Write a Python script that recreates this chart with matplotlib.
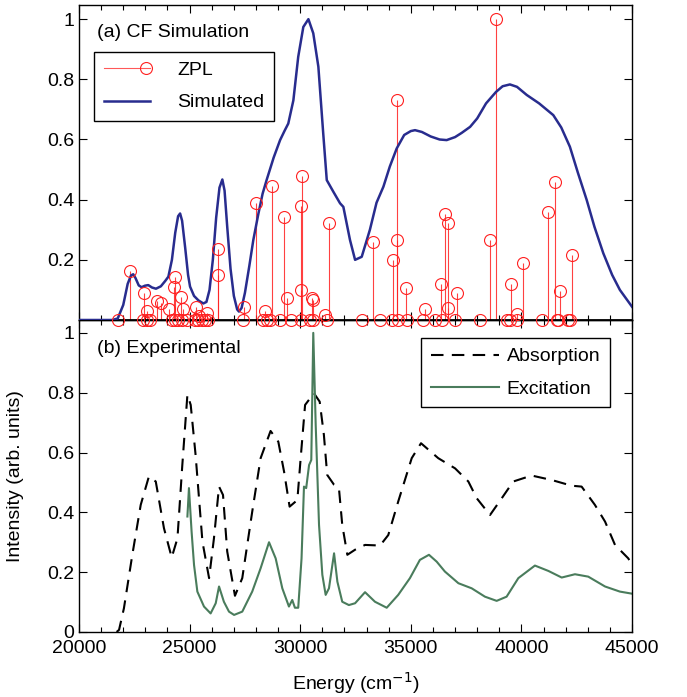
from __future__ import annotations

import matplotlib

matplotlib.use("Agg")
import matplotlib.pyplot as plt
import numpy as np
from matplotlib.legend_handler import HandlerBase
from matplotlib.lines import Line2D


# (a) crystal-field ZPL stems, energy in cm^-1 and relative intensity
ZPL_ENERGY = [
    22290, 22940, 23090, 23540, 23690, 24070, 24300, 24350, 24600, 24700,
    25270, 25420, 25770, 26280, 26290, 27470, 27990, 28410, 28740, 29280,
    29390, 30020, 30040, 30100, 30520, 30560, 31120, 31300, 33300, 34180,
    34360, 34380, 34780, 35640, 36350, 36550, 36670, 36700, 37080, 38580,
    38850, 39520, 39810, 40090, 41220, 41520, 41750, 42270,
]
ZPL_HEIGHT = [
    0.163, 0.089, 0.031, 0.063, 0.055, 0.035, 0.111, 0.143, 0.077, 0.038,
    0.042, 0.014, 0.024, 0.235, 0.150, 0.042, 0.390, 0.031, 0.447, 0.341,
    0.074, 0.379, 0.100, 0.477, 0.072, 0.068, 0.017, 0.321, 0.259, 0.201,
    0.266, 0.731, 0.107, 0.038, 0.118, 0.352, 0.039, 0.324, 0.089, 0.266,
    1.000, 0.118, 0.019, 0.188, 0.360, 0.458, 0.096, 0.216,
]
ZPL_ZERO_ENERGY = [
    21750, 22880, 23060, 23210, 24190, 24340, 24490, 24640, 24870, 25240,
    25390, 25550, 25700, 25850, 27430, 28330, 28480, 28630, 29090, 29570,
    30020, 30440, 30590, 31200, 32780, 33600, 34130, 34430, 34810, 35560,
    36090, 36390, 36990, 38130, 39330, 39480, 39780, 40910, 41590, 41660,
    42120, 42190,
]

# (a) simulated spectrum
SIM_ENERGY = [
    20000, 21500, 21750, 22000, 22200, 22350, 22450, 22550, 22700, 22830,
    22980, 23130, 23300, 23480, 23700, 23900, 24040, 24200, 24350, 24480,
    24570, 24660, 24800, 24930, 25020, 25200, 25400, 25620, 25760, 25900,
    26050, 26200, 26350, 26480, 26580, 26700, 26850, 27000, 27150, 27230,
    27350, 27500, 27700, 27880, 28100, 28300, 28480, 28800, 29090, 29300,
    29460, 29690, 29910, 30140, 30370, 30590, 30820, 31040, 31200, 31500,
    31800, 31950, 32250, 32480, 32780, 33150, 33450, 33760, 34050, 34360,
    34700, 35000, 35190, 35500, 35900, 36300, 36620, 37000, 37300, 37680,
    38000, 38400, 38850, 39150, 39480, 39800, 40240, 40800, 41440, 41800,
    42190, 42550, 42950, 43300, 43700, 44100, 44450, 45000,
]
SIM_VALUE = [
    0.000, 0.000, 0.005, 0.050, 0.120, 0.148, 0.152, 0.140, 0.115, 0.109,
    0.114, 0.116, 0.108, 0.104, 0.112, 0.130, 0.144, 0.200, 0.290, 0.345,
    0.354, 0.330, 0.240, 0.150, 0.111, 0.080, 0.065, 0.055, 0.060, 0.100,
    0.200, 0.340, 0.440, 0.467, 0.430, 0.310, 0.170, 0.080, 0.035, 0.028,
    0.040, 0.090, 0.180, 0.266, 0.350, 0.420, 0.465, 0.540, 0.598, 0.630,
    0.653, 0.730, 0.875, 0.974, 1.000, 0.953, 0.842, 0.620, 0.465, 0.426,
    0.388, 0.376, 0.266, 0.200, 0.210, 0.300, 0.390, 0.443, 0.510, 0.570,
    0.615, 0.628, 0.631, 0.625, 0.610, 0.600, 0.598, 0.608, 0.622, 0.642,
    0.670, 0.720, 0.758, 0.777, 0.783, 0.775, 0.748, 0.720, 0.681, 0.640,
    0.576, 0.490, 0.399, 0.310, 0.222, 0.150, 0.100, 0.044,
]

# (b) absorption
ABS_ENERGY = [
    21700, 21810, 22030, 22410, 22790, 23160, 23470, 23840, 24190, 24450,
    24670, 24900, 25050, 25270, 25580, 25880, 26100, 26330, 26510, 26700,
    27050, 27380, 27830, 28210, 28660, 29010, 29270, 29520, 29870, 30020,
    30220, 30620, 30880, 31070, 31220, 31530, 31750, 31900, 32130, 32480,
    32930, 33610, 33980, 34430, 35040, 35460, 36240, 37000, 37600, 37980,
    38580, 39110, 39630, 40460, 41370, 42270, 42720, 43320, 43780, 44230,
    44830, 45000,
]
ABS_VALUE = [
    0.000, 0.007, 0.079, 0.258, 0.425, 0.520, 0.503, 0.347, 0.249, 0.313,
    0.558, 0.793, 0.759, 0.592, 0.302, 0.180, 0.313, 0.486, 0.458, 0.269,
    0.121, 0.180, 0.402, 0.581, 0.672, 0.636, 0.536, 0.419, 0.441, 0.581,
    0.759, 0.798, 0.770, 0.659, 0.525, 0.492, 0.481, 0.358, 0.258, 0.275,
    0.291, 0.289, 0.324, 0.436, 0.581, 0.631, 0.581, 0.547, 0.503, 0.447,
    0.391, 0.447, 0.503, 0.523, 0.508, 0.489, 0.486, 0.425, 0.369, 0.291,
    0.246, 0.224,
]

# (b) excitation
EXC_ENERGY = [
    24900, 24970, 25090, 25200, 25350, 25650, 25950, 26180, 26330, 26550,
    26780, 27010, 27380, 27830, 28210, 28590, 28890, 29190, 29490, 29640,
    29760, 29910, 30060, 30170, 30270, 30400, 30500, 30590, 30700, 30850,
    31000, 31150, 31300, 31530, 31680, 31900, 32200, 32480, 32930, 33380,
    33910, 34430, 34960, 35410, 35820, 36170, 36540, 37150, 37750, 38350,
    38880, 39330, 39860, 40610, 41220, 41820, 42420, 43020, 43780, 44450,
    45000,
]
EXC_VALUE = [
    0.386, 0.481, 0.335, 0.224, 0.135, 0.085, 0.062, 0.096, 0.152, 0.101,
    0.068, 0.057, 0.068, 0.135, 0.213, 0.300, 0.246, 0.146, 0.085, 0.107,
    0.081, 0.081, 0.246, 0.486, 0.481, 0.558, 0.575, 1.000, 0.692, 0.358,
    0.191, 0.124, 0.146, 0.263, 0.168, 0.101, 0.090, 0.096, 0.133, 0.101,
    0.081, 0.124, 0.180, 0.241, 0.258, 0.235, 0.202, 0.163, 0.146, 0.118,
    0.104, 0.118, 0.180, 0.222, 0.204, 0.182, 0.193, 0.185, 0.152, 0.135,
    0.128,
]

XTICKS = [20000, 25000, 30000, 35000, 40000, 45000]
YTICKS_TOP = [0.2, 0.4, 0.6, 0.8, 1.0]
YTICKS_BOTTOM = [0, 0.2, 0.4, 0.6, 0.8, 1.0]

RED = "#ff2020"
BLUE = "#282c8e"
GREEN = "#4a7c5c"
FONT = ["Liberation Sans", "DejaVu Sans"]


class StemHandler(HandlerBase):
    # MATLAB-style stem legend entry: line with the open circle at its right end
    def create_artists(self, legend, orig_handle, xdescent, ydescent, width, height, fontsize, trans):
        y = height / 2 - ydescent
        line = Line2D([-xdescent, width - xdescent], [y, y], color=RED, lw=0.8, alpha=0.75)
        mark = Line2D([width - xdescent - 3], [y], marker="o", ms=8.6, mfc="none", mec=RED, mew=0.8, ls="none")
        line.set_transform(trans)
        mark.set_transform(trans)
        return [line, mark]


def style_axis(ax) -> None:
    ax.set_xlim(20000, 45000)
    ax.set_xticks(XTICKS)
    ax.set_xticks(np.arange(20000, 45001, 1000), minor=True)
    ax.tick_params(which="both", direction="in", top=True, right=True, labelsize=14)
    ax.tick_params(which="major", length=6, width=0.8)
    ax.tick_params(which="minor", length=3.5, width=0.8)
    ax.tick_params(axis="x", pad=6)
    for spine in ax.spines.values():
        spine.set_linewidth(1.0)


def main() -> None:
    plt.rcParams["font.family"] = FONT
    fig = plt.figure(figsize=(6.87, 6.97), dpi=100)
    ax_top = fig.add_axes([0.115, 0.5409, 0.805, 0.4519])
    ax_bot = fig.add_axes([0.115, 0.0933, 0.805, 0.4476])
    ax_top.set_zorder(3)

    # ---- (a) CF simulation
    energies = ZPL_ENERGY + ZPL_ZERO_ENERGY
    heights = ZPL_HEIGHT + [0.0] * len(ZPL_ZERO_ENERGY)
    ax_top.vlines(ZPL_ENERGY, 0, ZPL_HEIGHT, color=RED, lw=0.8, alpha=0.85, zorder=2)
    ax_top.plot(energies, heights, ls="none", marker="o", ms=8.6, mfc="none", mec=RED,
                mew=0.8, clip_on=False, zorder=4)
    ax_top.axhline(0, color="black", lw=2.0, zorder=3)
    ax_top.plot(SIM_ENERGY, SIM_VALUE, color=BLUE, lw=1.8, zorder=3)

    style_axis(ax_top)
    ax_top.set_ylim(0, 1.047)
    ax_top.set_yticks(YTICKS_TOP)
    ax_top.set_yticklabels(["0.2", "0.4", "0.6", "0.8", "1"])
    ax_top.tick_params(labelbottom=False)
    ax_top.text(0.033, 0.914, "(a) CF Simulation", transform=ax_top.transAxes,
                fontsize=14, ha="left", va="center")

    zpl_proxy = Line2D([], [], color=RED)
    sim_proxy = Line2D([], [], color=BLUE, lw=1.8)
    leg = ax_top.legend([zpl_proxy, sim_proxy], ["ZPL", "Simulated"],
                        handler_map={zpl_proxy: StemHandler()},
                        loc="upper left", bbox_to_anchor=(0.027, 0.851), borderaxespad=0,
                        fontsize=14, handlelength=2.4, handletextpad=1.4, labelspacing=0.75,
                        borderpad=0.5, fancybox=False, framealpha=1, edgecolor="black")
    leg.get_frame().set_linewidth(1.0)

    # ---- (b) experimental
    ax_bot.plot(ABS_ENERGY, ABS_VALUE, color="black", lw=1.5, dashes=(6, 4), label="Absorption")
    ax_bot.plot(EXC_ENERGY, EXC_VALUE, color=GREEN, lw=1.5, label="Excitation")

    style_axis(ax_bot)
    ax_bot.set_ylim(0, 1.043)
    ax_bot.set_yticks(YTICKS_BOTTOM)
    ax_bot.set_yticklabels(["0", "0.2", "0.4", "0.6", "0.8", "1"])
    ax_bot.text(0.033, 0.910, "(b) Experimental", transform=ax_bot.transAxes,
                fontsize=14, ha="left", va="center")
    leg2 = ax_bot.legend(loc="upper right", bbox_to_anchor=(0.960, 0.942), borderaxespad=0,
                         fontsize=14, handlelength=3.5, handletextpad=0.4, labelspacing=0.75,
                         borderpad=0.5, fancybox=False, framealpha=1, edgecolor="black")
    leg2.get_frame().set_linewidth(1.0)

    ax_bot.set_xlabel("Energy (cm$^{-1}$)", fontsize=14, labelpad=9)
    ax_bot.set_ylabel("Intensity (arb. units)", fontsize=14)
    ax_bot.yaxis.set_label_coords(-0.10, 0.5)

    fig.savefig("out.png", dpi=100)
    plt.close(fig)


if __name__ == "__main__":
    main()
